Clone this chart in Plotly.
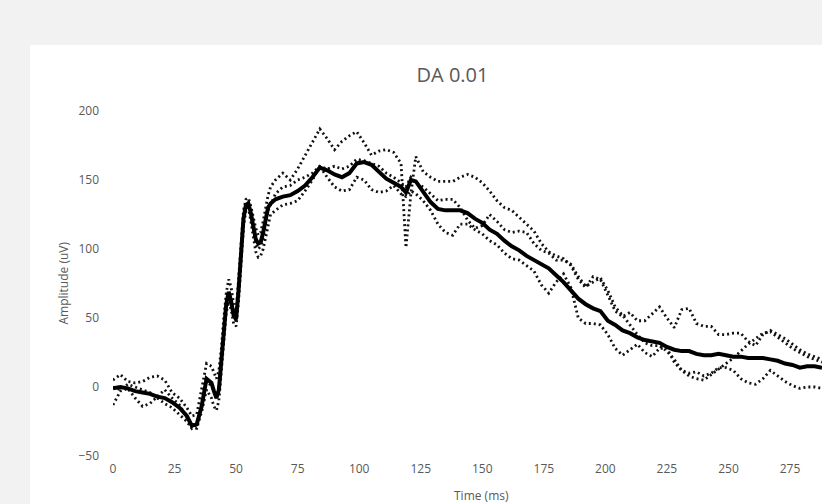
import plotly.graph_objects as go

time_ms = [0, 3, 6, 9, 12, 15, 18, 21, 24, 27, 30,
           32, 34, 36, 38,
           40, 41, 42, 43, 44, 45, 46, 47, 48, 49, 50, 51, 52, 53, 54, 55, 56, 57, 58, 59, 60, 61, 62, 63, 64,
           66,
           69, 72, 75, 78, 81, 84, 87, 90, 93, 96, 99, 102, 105, 108, 111, 114, 117,
           119, 121, 123,
           126, 129, 132, 135, 138, 141, 144, 147, 150, 153, 156, 159, 162, 165, 168, 171, 174, 177, 180,
           183, 186, 189, 192, 195, 198, 201, 204, 207, 210, 213, 216, 219, 222, 225, 228, 231, 234, 237,
           240, 243, 246, 249, 252, 255, 258, 261, 264, 267, 270, 273, 276, 279, 282, 285, 288]

mean_uv = [-1, 0, -1, -3, -4, -5, -7, -8, -11, -15, -21,
           -28, -27, -14, 6,
           3, -3, -8, -2, 18, 42, 60, 69, 62, 52, 49, 70, 98, 122, 132, 133, 126, 116, 107, 104, 105, 112, 122, 130, 133,
           136,
           138, 139, 142, 146, 152, 159, 157, 154, 152, 155, 162, 163, 161, 156, 151, 148, 145,
           141, 150, 149,
           141, 134, 129, 128, 128, 128, 126, 122, 119, 114, 111, 106, 102, 99, 95, 92, 89, 86, 81,
           76, 70, 64, 60, 57, 55, 48, 45, 41, 39, 36, 34, 33, 32, 29, 27, 26, 26, 24,
           23, 23, 24, 23, 22, 22, 21, 21, 21, 20, 19, 17, 16, 14, 15, 15, 14]

trial_a = [5, 9, 4, 3, 4, 7, 8, 5, -4, -8, -15,
           -21, -20, 0, 17,
           15, 10, 6, 12, 28, 50, 68, 78, 72, 60, 55, 78, 105, 128, 136, 137, 131, 122, 115, 110, 112, 120, 130, 139, 145,
           150,
           155, 150, 158, 168, 178, 187, 180, 172, 178, 182, 185, 177, 168, 171, 172, 170, 162,
           101, 140, 167,
           156, 152, 149, 149, 149, 152, 154, 152, 148, 142, 135, 130, 128, 123, 118, 113, 104, 98, 95,
           93, 88, 78, 72, 80, 78, 67, 55, 51, 54, 48, 48, 53, 58, 50, 43, 56, 57, 46,
           44, 44, 38, 38, 39, 39, 33, 30, 38, 41, 38, 35, 31, 27, 24, 22, 20]

trial_b = [0, -2, 2, 0, -2, -4, -8, -12, -15, -20, -25,
           -30, -27, -15, 4,
           1, -4, -8, -3, 16, 40, 58, 68, 62, 50, 48, 68, 96, 120, 131, 134, 126, 114, 104, 100, 102, 108, 118, 128, 132,
           140,
           145, 146, 150, 152, 155, 160, 158, 160, 158, 160, 165, 164, 162, 160, 155, 152, 148,
           145, 152, 148,
           145, 140, 135, 136, 136, 130, 121, 115, 117, 125, 120, 114, 112, 113, 112, 104, 99, 97, 92,
           92, 89, 80, 73, 76, 79, 70, 58, 52, 45, 38, 32, 30, 30, 26, 20, 12, 8, 6,
           5, 9, 13, 17, 21, 26, 31, 35, 39, 40, 36, 32, 28, 25, 22, 20, 18]

trial_c = [-13, -3, -1, -8, -14, -12, -7, -2, -8, -13, -22,
           -29, -30, -18, -2,
           -8, -14, -17, -10, 12, 36, 54, 62, 56, 46, 44, 62, 90, 116, 128, 130, 120, 108, 98, 94, 95, 100, 108, 118, 125,
           128,
           132, 133, 135, 142, 150, 160, 152, 145, 142, 143, 152, 150, 143, 141, 142, 146, 140,
           138, 142, 140,
           135, 128, 118, 112, 110, 118, 118, 114, 111, 106, 103, 97, 93, 92, 88, 84, 74, 68, 76,
           82, 72, 50, 46, 46, 45, 38, 28, 23, 27, 31, 25, 22, 28, 28, 18, 12, 10, 11,
           8, 10, 14, 14, 12, 6, 3, 2, 6, 12, 8, 4, 1, -1, 0, 0, -1]

x_ticks = [0, 25, 50, 75, 100, 125, 150, 175, 200, 225, 250, 275]
y_ticks = [-50, 0, 50, 100, 150, 200]

title_text = "DA 0.01"
x_title = "Time (ms)"
y_title = "Amplitude (uV)"

FONT = "Open Sans"
GREY = "#595959"

fig = go.Figure()
for series in (trial_a, trial_b, trial_c):
    fig.add_trace(go.Scatter(x=time_ms, y=series, mode="lines",
                             line=dict(color="#111111", width=2.8, dash="2px,3px"),
                             showlegend=False, hoverinfo="skip"))
fig.add_trace(go.Scatter(x=time_ms, y=mean_uv, mode="lines",
                         line=dict(color="#000000", width=4),
                         showlegend=False, hoverinfo="skip"))

W, H = 822, 504
L, R, T, B = 113, 0, 111, 48
pw, ph = W - L - R, H - T - B

def px_x(p):
    return (p - L) / pw

def px_y(p):
    return (H - B - p) / ph

fig.add_shape(type="rect", xref="paper", yref="paper",
              x0=px_x(30), x1=px_x(840), y0=px_y(520), y1=px_y(45),
              fillcolor="white", line=dict(width=0), layer="below")

fig.update_layout(
    width=W, height=H,
    margin=dict(l=L, r=R, t=T, b=B, autoexpand=False),
    paper_bgcolor="#f2f2f2",
    plot_bgcolor="white",
    font=dict(family=FONT, color=GREY, size=12),
    title=dict(text=title_text, xref="container", yref="container",
               x=452.5 / W, y=1 - 75 / H, xanchor="center", yanchor="middle",
               font=dict(family=FONT, size=20, color=GREY)),
    xaxis=dict(range=[0, 288], tickvals=x_ticks, showgrid=False, zeroline=False,
               showline=False, ticks="", automargin=False, ticklabelstandoff=4,
               tickfont=dict(family=FONT, size=12, color=GREY)),
    yaxis=dict(range=[-50, 200], tickvals=y_ticks, showgrid=False, zeroline=False,
               showline=False, ticks="", automargin=False, ticklabelstandoff=13,
               tickfont=dict(family=FONT, size=12, color=GREY)),
    annotations=[
        dict(text=y_title, xref="paper", yref="paper", x=px_x(63), y=0.5,
             textangle=-90, showarrow=False, xanchor="center", yanchor="middle",
             font=dict(family=FONT, size=12, color=GREY)),
        dict(text=x_title, xref="paper", yref="paper", x=px_x(481), y=px_y(495),
             showarrow=False, xanchor="center", yanchor="middle",
             font=dict(family=FONT, size=12, color=GREY)),
    ],
)

fig.write_html("out.html")
